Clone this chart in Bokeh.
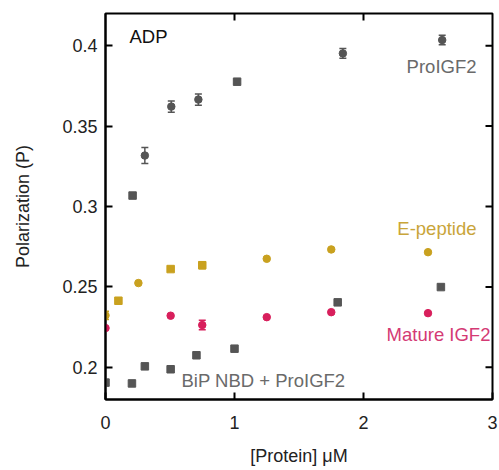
import math
from bokeh.plotting import figure
from bokeh.models import (ColumnDataSource, Whisker, TeeHead, Label,
                          FixedTicker, CustomJSTickFormatter, Range1d)
from bokeh.embed import file_html
from bokeh.resources import INLINE

# ---- data ----
pro_x = [0.21, 0.305, 0.51, 0.72, 1.02, 1.84, 2.61]
pro_y = [0.3068, 0.3317, 0.3621, 0.3665, 0.3776, 0.3952, 0.4035]
pro_err = [0.0015, 0.005, 0.0035, 0.0035, 0.0012, 0.003, 0.003]
pro_marker = ["square", "circle", "circle", "circle", "square", "circle", "circle"]

ep_x = [0.0, 0.1, 0.255, 0.505, 0.75, 1.25, 1.75, 2.5]
ep_y = [0.2323, 0.2414, 0.2524, 0.2611, 0.2635, 0.2675, 0.2733, 0.2716]
ep_err = [0.0025, 0.0, 0.0, 0.0012, 0.0022, 0.0, 0.0, 0.0]
ep_marker = ["circle", "square", "circle", "square", "square", "circle", "circle", "circle"]

mat_x = [0.0, 0.505, 0.75, 1.25, 1.75, 2.5]
mat_y = [0.2244, 0.2321, 0.2263, 0.2312, 0.2343, 0.2337]
mat_err = [0.0, 0.0, 0.003, 0.0, 0.0, 0.0]

bip_x = [0.0, 0.205, 0.305, 0.505, 0.705, 1.0, 1.8, 2.6]
bip_y = [0.1905, 0.1900, 0.2006, 0.1988, 0.2075, 0.2116, 0.2404, 0.2499]

x_ticks = [0, 1, 2, 3]
y_ticks = [0.2, 0.25, 0.3, 0.35, 0.4]
X_MIN, X_MAX = 0, 3
Y_MIN, Y_MAX = 0.18, 0.42

GRAY = "#555555"
GRAY_TXT = "#6a6a6a"
GOLD = "#c9a11f"
GOLD_TXT = "#c9a53a"
PINK = "#d81f5c"
PINK_TXT = "#d43a74"
FONT = "Liberation Sans"

p = figure(width=499, height=470, output_backend="svg", toolbar_location=None,
           x_range=Range1d(X_MIN, X_MAX), y_range=Range1d(Y_MIN, Y_MAX),
           min_border_left=105, min_border_right=7, min_border_top=13,
           min_border_bottom=71, x_axis_label="[Protein] μM",
           y_axis_label="Polarization (P)")
p.xgrid.visible = False
p.ygrid.visible = False
p.outline_line_color = "black"
p.outline_line_width = 2
p.background_fill_color = "white"
p.border_fill_color = "white"

ytf = CustomJSTickFormatter(code="return String(Math.round(tick*100)/100);")

for ax in p.xaxis:
    ax.ticker = FixedTicker(ticks=x_ticks)
for ax in p.yaxis:
    ax.ticker = FixedTicker(ticks=y_ticks)
    ax.formatter = ytf

for ax in list(p.xaxis) + list(p.yaxis):
    ax.major_tick_in = 7
    ax.major_tick_out = 0
    ax.minor_tick_line_color = None
    ax.axis_line_width = 2
    ax.major_tick_line_width = 2
    ax.major_label_text_font = FONT
    ax.major_label_text_font_size = "18px"
    ax.major_label_text_color = "#222222"
    ax.axis_label_text_font = FONT
    ax.axis_label_text_font_size = "18px"
    ax.axis_label_text_font_style = "normal"
    ax.axis_label_text_color = "#222222"
p.xaxis.major_label_standoff = 16
p.xaxis.axis_label_standoff = 14
p.yaxis.major_label_standoff = 8
p.yaxis.axis_label_standoff = 26

# inward ticks on the top and right frame edges
p.ray(x=[X_MAX] * len(y_ticks), y=y_ticks, length=7, length_units="screen",
      angle=math.pi, line_color="black", line_width=2)
p.ray(x=x_ticks[1:-1], y=[Y_MAX] * (len(x_ticks) - 2), length=7,
      length_units="screen", angle=-math.pi / 2, line_color="black", line_width=2)

def errbars(xs, ys, es, color):
    xx, lo, hi = [], [], []
    for x, y, e in zip(xs, ys, es):
        if e > 0:
            xx.append(x); lo.append(y - e); hi.append(y + e)
    src = ColumnDataSource(dict(x=xx, lower=lo, upper=hi))
    w = Whisker(source=src, base="x", lower="lower", upper="upper",
                line_color=color, line_width=1.5,
                upper_head=TeeHead(size=7, line_color=color, line_width=1.5),
                lower_head=TeeHead(size=7, line_color=color, line_width=1.5))
    p.add_layout(w)

errbars(pro_x, pro_y, pro_err, GRAY)
errbars(ep_x, ep_y, ep_err, GOLD)
errbars(mat_x, mat_y, mat_err, PINK)

p.scatter(x=bip_x, y=bip_y, marker="square", size=7.5, color=GRAY)
p.scatter(source=ColumnDataSource(dict(x=pro_x, y=pro_y, m=pro_marker)),
          x="x", y="y", marker="m", size=7.5, color=GRAY)
p.scatter(source=ColumnDataSource(dict(x=ep_x, y=ep_y, m=ep_marker)),
          x="x", y="y", marker="m", size=7.5, color=GOLD)
p.scatter(x=mat_x, y=mat_y, marker="circle", size=7.5, color=PINK)

def lab(text, x, y, color, align):
    p.add_layout(Label(x=x, y=y, text=text, text_color=color, text_align=align,
                       text_baseline="middle", text_font=FONT,
                       text_font_size="18.5px"))

lab("ADP", 0.186, 0.406, "#111111", "left")
lab("ProIGF2", 2.876, 0.387, GRAY_TXT, "right")
lab("E-peptide", 2.876, 0.2863, GOLD_TXT, "right")
lab("Mature IGF2", 2.984, 0.2205, PINK_TXT, "right")
lab("BiP NBD + ProIGF2", 0.589, 0.1919, GRAY_TXT, "left")

open("out.html", "w").write(file_html(p, INLINE))
